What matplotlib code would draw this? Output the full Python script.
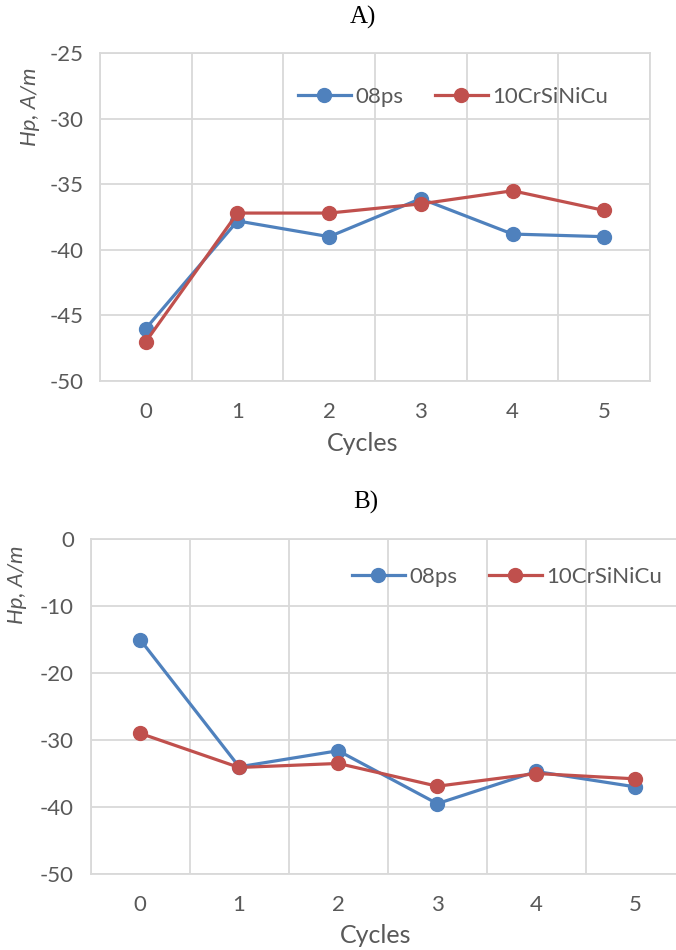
import matplotlib
matplotlib.use('Agg')
from matplotlib import pyplot as plt
import numpy as np

# data
cycles = [0, 1, 2, 3, 4, 5]
a_08ps = [-46.0, -37.8, -39.0, -36.1, -38.8, -39.0]
a_10cr = [-47.0, -37.2, -37.2, -36.5, -35.5, -37.0]
b_08ps = [-15.0, -34.0, -31.6, -39.5, -34.7, -37.0]
b_10cr = [-29.0, -34.1, -33.5, -36.9, -35.0, -35.8]
series_names = ['08ps', '10CrSiNiCu']

BLUE = '#4F81BD'
RED = '#C0504D'
GRID = '#D9D9D9'
TXT = '#595959'

plt.rcParams['font.family'] = ['Lato', 'DejaVu Sans']
plt.rcParams['axes.unicode_minus'] = False

fig = plt.figure(figsize=(6.76, 9.5), dpi=100)
W, H = 676.0, 950.0


def px_axes(l, r, t, b):
    return fig.add_axes([l / W, 1 - b / H, (r - l) / W, (b - t) / H])


def style(ax, ylim, yticks, lab_xy, xlab_xy):
    x = np.arange(len(cycles))
    ax.set_xlim(-0.5, len(cycles) - 0.5)
    ax.set_ylim(*ylim)
    ax.set_yticks(yticks)
    ax.set_xticks(x)
    ax.set_xticklabels([str(c) for c in cycles])
    ax.set_xticks(np.arange(-0.5, len(cycles), 1.0), minor=True)
    ax.grid(True, which='major', axis='y', color=GRID, lw=1.3)
    ax.grid(True, which='minor', axis='x', color=GRID, lw=1.3)
    ax.set_axisbelow(True)
    for s in ax.spines.values():
        s.set_color(GRID)
        s.set_linewidth(1.3)
    ax.tick_params(which='both', length=0)
    ax.tick_params(axis='x', pad=15, labelsize=16, labelcolor=TXT)
    ax.tick_params(axis='y', pad=12, labelsize=16, labelcolor=TXT)
    ax.set_ylabel('Hp, A/m', fontsize=16, color=TXT, style='italic')
    ax.yaxis.set_label_coords(*lab_xy)
    ax.set_xlabel('Cycles', fontsize=18, color=TXT)
    ax.xaxis.set_label_coords(*xlab_xy)


def draw(ax, y1, y2, leg_xy):
    x = np.arange(len(cycles))
    ax.plot(x, y1, '-o', color=BLUE, lw=2.3, ms=10, label=series_names[0], zorder=3)
    ax.plot(x, y2, '-o', color=RED, lw=2.3, ms=10, label=series_names[1], zorder=4)
    fig.legend(handles=ax.get_lines(), loc='center', bbox_to_anchor=leg_xy,
               ncol=2, frameon=False, fontsize=16, labelcolor=TXT,
               handlelength=2.4, handletextpad=0.2, columnspacing=1.4)


axA = px_axes(100, 650, 53, 381)
style(axA, (-50, -25), [-50, -45, -40, -35, -30, -25], (-0.109, 0.835), (0.478, -0.155))
draw(axA, a_08ps, a_10cr, (453 / W, 1 - 97 / H))

axB = px_axes(90.5, 685, 539, 874)
style(axB, (-50, 0), [-50, -40, -30, -20, -10, 0], (-0.107, 0.863), (0.48, -0.149))
draw(axB, b_08ps, b_10cr, (507 / W, 1 - 577 / H))

fig.text(363 / W, 1 - 17 / H, 'A)', family='Liberation Serif', fontsize=18,
         ha='center', va='center')
fig.text(366 / W, 1 - 502 / H, 'B)', family='Liberation Serif', fontsize=18,
         ha='center', va='center')

fig.savefig('out.png', dpi=100)
